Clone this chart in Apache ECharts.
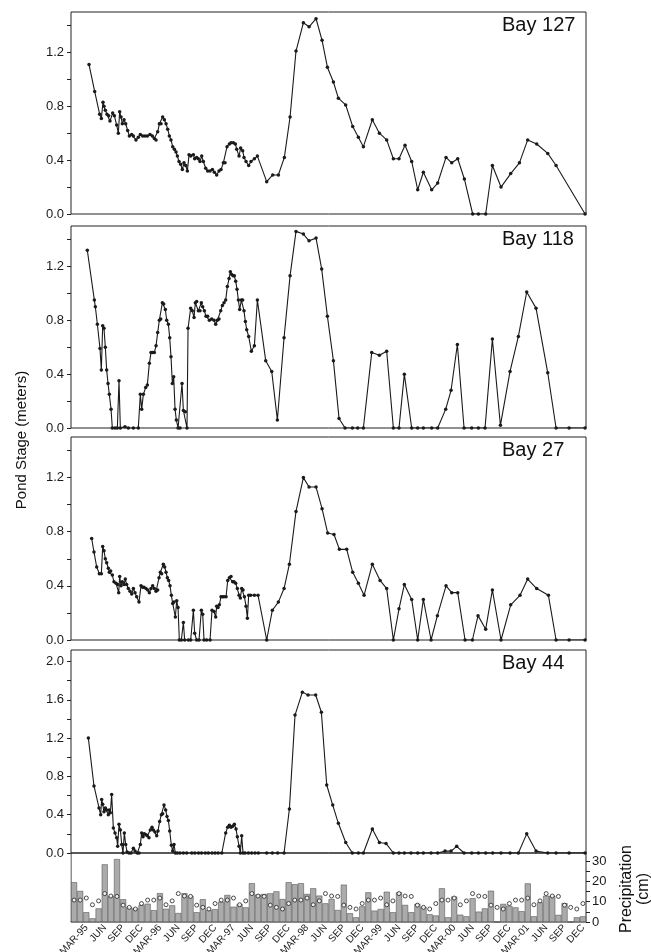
<!DOCTYPE html>
<html>
<head>
<meta charset="utf-8">
<script src="https://cdn.jsdelivr.net/npm/echarts@6/dist/echarts.min.js"></script>
<style>
    html, body { margin: 0; padding: 0; background: #fff; }
    #main { width: 651px; height: 952px; }
</style>
</head>
<body>
<div id="main"></div>
<script>
// x = months since 1 Jan 1995, y = pond stage (m)
var bay127 = [[2.94,1.11],[3.86,0.91],[4.68,0.74],[4.95,0.71],[5.22,0.83],[5.38,0.80],[5.60,0.77],[5.87,0.74],[6.14,0.73],[6.36,0.69],[6.80,0.75],[7.07,0.73],[7.45,0.66],[7.72,0.60],[7.94,0.76],[8.16,0.72],[8.37,0.67],[8.65,0.70],[8.92,0.67],[9.24,0.62],[9.52,0.58],[9.90,0.59],[10.17,0.58],[10.60,0.55],[10.98,0.57],[11.31,0.59],[11.69,0.58],[12.07,0.58],[12.45,0.58],[12.89,0.59],[13.27,0.58],[13.59,0.56],[13.87,0.55],[14.14,0.61],[14.41,0.67],[14.68,0.67],[14.95,0.72],[15.23,0.70],[15.50,0.67],[15.77,0.63],[16.04,0.58],[16.31,0.55],[16.59,0.50],[16.86,0.48],[17.13,0.46],[17.35,0.43],[17.62,0.39],[17.89,0.37],[18.16,0.33],[18.43,0.38],[18.71,0.36],[18.98,0.32],[19.25,0.44],[19.52,0.43],[19.96,0.44],[20.17,0.41],[20.50,0.42],[20.77,0.41],[21.04,0.39],[21.32,0.43],[21.59,0.39],[21.97,0.34],[22.29,0.32],[22.68,0.32],[23.06,0.33],[23.38,0.31],[23.76,0.29],[24.14,0.32],[24.47,0.33],[24.85,0.38],[25.12,0.38],[25.45,0.50],[25.83,0.52],[26.10,0.53],[26.48,0.53],[26.81,0.52],[27.03,0.48],[27.41,0.43],[27.67,0.49],[28.00,0.47],[28.22,0.42],[28.55,0.39],[28.98,0.36],[29.36,0.39],[29.91,0.41],[30.40,0.43],[31.92,0.24],[32.90,0.29],[33.82,0.29],[34.80,0.42],[35.73,0.72],[36.70,1.21],[37.90,1.42],[38.83,1.39],[39.97,1.45],[40.95,1.29],[41.82,1.09],[42.80,0.98],[43.61,0.86],[44.80,0.81],[45.95,0.65],[46.87,0.57],[47.69,0.50],[49.15,0.70],[50.30,0.60],[51.49,0.55],[52.58,0.41],[53.50,0.41],[54.48,0.51],[55.57,0.39],[56.55,0.18],[57.47,0.31],[58.83,0.18],[59.81,0.23],[61.17,0.42],[62.10,0.38],[63.08,0.41],[64.16,0.26],[65.52,0],[66.45,0],[67.64,0],[68.73,0.36],[70.14,0.20],[71.72,0.30],[73.14,0.38],[74.49,0.55],[75.96,0.52],[77.76,0.45],[79.12,0.36],[83.85,0]];

var bay118 = [[2.66,1.32],[3.81,0.95],[3.97,0.90],[4.30,0.77],[4.73,0.59],[4.95,0.43],[5.17,0.76],[5.38,0.74],[5.60,0.60],[5.82,0.43],[6.04,0.33],[6.25,0.25],[6.53,0.14],[6.74,0],[7.18,0],[7.56,0],[7.83,0.35],[8.05,0],[8.81,0.01],[9.35,0],[10.17,0],[10.98,0],[11.31,0.25],[11.53,0.14],[11.80,0.25],[12.18,0.30],[12.45,0.32],[12.78,0.48],[13.05,0.56],[13.32,0.56],[13.59,0.56],[13.87,0.61],[14.14,0.71],[14.41,0.80],[14.63,0.81],[14.90,0.93],[15.12,0.92],[15.39,0.88],[15.61,0.80],[15.88,0.77],[16.10,0.67],[16.31,0.53],[16.53,0.33],[16.75,0.38],[16.97,0.14],[17.18,0.06],[17.46,0],[17.78,0],[18.11,0.33],[18.33,0.13],[18.65,0.12],[18.92,0],[19.09,0.74],[19.52,0.89],[19.79,0.87],[20.07,0.82],[20.28,0.93],[20.50,0.94],[20.77,0.87],[21.04,0.87],[21.26,0.93],[21.48,0.90],[21.75,0.87],[22.02,0.83],[22.29,0.83],[22.57,0.80],[22.95,0.81],[23.33,0.80],[23.60,0.77],[23.87,0.80],[24.14,0.81],[24.42,0.87],[24.69,0.91],[24.96,0.93],[25.23,0.95],[25.50,1.05],[25.78,1.11],[25.99,1.16],[26.21,1.14],[26.43,1.13],[26.64,1.13],[26.86,1.09],[27.08,1.03],[27.30,0.95],[27.51,0.88],[27.79,0.95],[28.00,0.95],[28.22,0.87],[28.44,0.79],[28.66,0.73],[28.98,0.68],[29.42,0.57],[29.91,0.61],[30.40,0.95],[31.76,0.50],[32.74,0.42],[33.66,0.06],[34.75,0.67],[35.73,1.13],[36.70,1.46],[37.90,1.44],[38.83,1.39],[39.97,1.41],[40.89,1.18],[41.82,0.83],[42.80,0.50],[43.72,0.07],[44.70,0],[45.89,0],[46.76,0],[47.69,0],[49.05,0.56],[50.30,0.54],[51.49,0.57],[52.58,0],[53.50,0],[54.37,0.40],[55.57,0],[56.55,0],[57.47,0],[58.83,0],[59.81,0],[61.12,0.14],[61.99,0.28],[63.02,0.62],[64.11,0],[65.36,0],[66.45,0],[67.53,0],[68.73,0.66],[70.04,0.02],[71.61,0.42],[72.97,0.68],[74.33,1.01],[75.85,0.89],[77.76,0.41],[79.12,0],[81.24,0],[83.85,0]];

var bay27 = [[3.37,0.75],[3.75,0.65],[4.19,0.54],[4.62,0.49],[4.95,0.49],[5.17,0.69],[5.38,0.66],[5.60,0.60],[5.82,0.57],[6.09,0.53],[6.25,0.50],[6.47,0.51],[6.74,0.48],[7.01,0.43],[7.34,0.42],[7.61,0.41],[7.78,0.35],[7.94,0.47],[8.16,0.40],[8.37,0.43],[8.65,0.41],[8.86,0.45],[9.08,0.41],[9.35,0.38],[9.62,0.36],[9.90,0.34],[10.17,0.38],[10.44,0.35],[10.71,0.32],[11.09,0.28],[11.42,0.40],[11.69,0.39],[11.91,0.39],[12.23,0.38],[12.51,0.37],[12.78,0.35],[13.05,0.38],[13.32,0.40],[13.59,0.38],[13.87,0.36],[14.14,0.37],[14.36,0.46],[14.57,0.50],[14.79,0.49],[15.06,0.56],[15.28,0.54],[15.50,0.50],[15.72,0.46],[15.93,0.44],[16.15,0.40],[16.37,0.33],[16.59,0.27],[16.80,0.28],[17.02,0.17],[17.24,0.29],[17.46,0.24],[17.67,0],[18.00,0],[18.33,0.13],[18.54,0],[19.14,0],[19.52,0],[19.96,0.22],[20.17,0.05],[20.50,0],[20.88,0],[21.26,0.22],[21.48,0.19],[21.70,0],[22.13,0],[22.68,0],[23.00,0.22],[23.33,0.21],[23.60,0.17],[23.76,0.25],[23.98,0.24],[24.20,0.26],[24.47,0.32],[24.74,0.32],[24.96,0.32],[25.29,0.32],[25.56,0.44],[25.83,0.46],[26.10,0.47],[26.37,0.43],[26.59,0.43],[26.86,0.42],[27.13,0.38],[27.41,0.33],[27.62,0.31],[27.84,0.38],[28.06,0.37],[28.28,0.32],[28.55,0.25],[28.77,0.16],[28.98,0.33],[29.31,0.33],[29.91,0.33],[30.51,0.33],[31.92,0],[32.84,0.22],[33.82,0.28],[34.75,0.38],[35.62,0.56],[36.70,0.95],[37.90,1.20],[38.83,1.13],[39.97,1.13],[40.95,0.97],[41.87,0.79],[42.90,0.78],[43.78,0.67],[44.97,0.67],[45.95,0.50],[46.87,0.42],[47.80,0.33],[49.15,0.56],[50.41,0.44],[51.49,0.38],[52.58,0],[53.50,0.23],[54.37,0.41],[55.57,0.30],[56.55,0],[57.47,0.30],[58.73,0],[59.76,0.18],[61.17,0.40],[62.10,0.35],[63.08,0.35],[64.27,0],[65.47,0],[66.39,0.18],[67.64,0.08],[68.73,0.37],[70.14,0],[71.72,0.26],[73.24,0.33],[74.49,0.45],[75.96,0.38],[77.87,0.33],[79.12,0],[81.24,0],[83.85,0]];

var bay44 = [[2.83,1.20],[3.75,0.70],[4.57,0.47],[4.84,0.40],[5.00,0.56],[5.17,0.51],[5.38,0.43],[5.60,0.47],[5.82,0.45],[6.09,0.40],[6.25,0.45],[6.42,0.42],[6.63,0.61],[6.91,0.26],[7.18,0.21],[7.45,0.16],[7.61,0.07],[7.83,0.30],[8.05,0.24],[8.27,0.09],[8.48,0],[8.70,0.21],[8.92,0.09],[9.14,0.01],[9.46,0],[9.79,0],[10.17,0.05],[10.44,0.02],[10.82,0],[11.09,0],[11.31,0.09],[11.53,0.21],[11.75,0.17],[11.96,0.20],[12.23,0.19],[12.45,0.18],[12.72,0.16],[12.94,0.24],[13.21,0.27],[13.43,0.24],[13.70,0.22],[13.98,0.18],[14.19,0.23],[14.46,0.33],[14.74,0.40],[14.95,0.41],[15.17,0.50],[15.44,0.45],[15.66,0.38],[15.88,0.34],[16.10,0.23],[16.37,0.08],[16.59,0.02],[16.80,0.09],[17.02,0],[17.35,0],[17.78,0],[18.33,0],[18.87,0],[19.70,0],[20.20,0],[20.80,0],[21.30,0],[21.90,0],[22.40,0],[23.00,0],[23.50,0],[24.00,0],[24.60,0],[25.23,0.21],[25.56,0.27],[25.83,0.29],[26.10,0.27],[26.37,0.28],[26.64,0.30],[26.92,0.25],[27.13,0.17],[27.41,0.07],[27.62,0],[27.84,0.18],[28.06,0],[28.39,0],[28.93,0],[29.47,0],[30.02,0],[30.56,0],[31.92,0],[32.84,0],[33.71,0],[34.75,0],[35.62,0.46],[36.54,1.44],[37.74,1.68],[38.66,1.65],[39.91,1.65],[40.84,1.47],[41.71,0.71],[42.69,0.50],[43.61,0.31],[44.81,0.11],[45.89,0],[46.87,0],[47.69,0],[49.15,0.25],[50.30,0.11],[51.38,0.10],[52.58,0],[53.50,0],[54.37,0],[55.46,0],[56.55,0],[57.47,0],[58.73,0],[59.81,0],[61.01,0.02],[61.99,0.02],[62.91,0.07],[64.11,0],[65.36,0],[66.45,0],[67.64,0],[68.79,0],[70.14,0],[71.61,0],[72.97,0],[74.33,0.20],[75.85,0.02],[77.76,0],[79.12,0],[81.24,0],[83.85,0]];

// monthly precipitation (cm), Jan 1995 .. Dec 2001
var precip = [19.6,15.3,4.8,1.8,6.7,28.4,12.8,31.0,11.2,7.3,6.7,8.4,
              9.0,5.8,14.2,6.5,8.2,4.4,14.2,12.8,4.8,11.2,5.8,6.3,
              10.0,13.3,7.5,8.8,7.2,19.1,13.5,13.8,14.1,15.1,11.3,19.6,
              18.6,19.1,13.8,16.6,13.0,9.2,11.3,5.9,18.4,4.3,2.3,7.7,
              14.6,5.6,6.4,14.9,4.8,14.6,8.4,4.8,8.9,7.5,3.8,3.2,
              16.6,2.3,12.5,3.6,2.8,11.7,5.1,6.7,15.4,0,8.9,8.0,
              7.2,5.3,19.0,2.8,9.7,12.9,12.9,3.5,9.3,0,2.3,2.8];
// long-term monthly mean (cm), Jan..Dec
var precipNormal = [10.8,10.8,11.8,8.5,10.4,14.0,12.8,12.6,8.3,7.2,6.4,9.1];

var tickMonths = [2,5,8,11,14,17,20,23,26,29,32,35,38,41,44,47,50,53,56,59,62,65,68,71,74,77,80,83];
var tickLabels = ['MAR-95','JUN','SEP','DEC','MAR-96','JUN','SEP','DEC','MAR-97','JUN','SEP','DEC',
                  'MAR-98','JUN','SEP','DEC','MAR-99','JUN','SEP','DEC','MAR-00','JUN','SEP','DEC',
                  'MAR-01','JUN','SEP','DEC'];

(function () {
    var FONT = '"Liberation Sans", Arial, sans-serif';
    var INK = '#1a1a1a';

    var panels = [
        {name: 'Bay 127', data: bay127, top: 12, height: 202, max: 1.5},
        {name: 'Bay 118', data: bay118, top: 226, height: 202, max: 1.5},
        {name: 'Bay 27', data: bay27, top: 437, height: 203, max: 1.5},
        {name: 'Bay 44', data: bay44, top: 650, height: 203, max: 2.12}
    ];

    var grid = [], xAxis = [], yAxis = [], series = [], graphic = [];

    panels.forEach(function (p, i) {
        grid.push({left: 71, right: 65, top: p.top, height: p.height, outerBoundsMode: 'none',
            show: true, borderColor: '#222', borderWidth: 1});
        xAxis.push({type: 'value', gridIndex: i, min: 0, max: 84,
            axisLine: {show: false, onZero: false}, axisTick: {show: false},
            axisLabel: {show: false}, splitLine: {show: false}});
        // ticks every 0.2 m, labels every 0.4 m
        yAxis.push({type: 'value', gridIndex: i, min: 0, max: p.max, interval: 0.2,
            axisLine: {show: false, onZero: false},
            axisTick: {show: true, length: 4, lineStyle: {color: '#222'}},
            axisLabel: {color: INK, fontSize: 13, fontFamily: FONT, margin: 7, showMaxLabel: false,
                formatter: function (v) {
                    var t = Math.round(v * 10);
                    return (t % 4 === 0 && v < p.max - 0.05) ? v.toFixed(1) : '';
                }},
            splitLine: {show: false}});
        series.push({type: 'line', xAxisIndex: i, yAxisIndex: i, data: p.data,
            symbol: 'circle', symbolSize: 3.5, showAllSymbol: true,
            lineStyle: {color: INK, width: 1.1}, itemStyle: {color: INK}});
        graphic.push({type: 'text', left: 502, top: p.top + 3,
            style: {text: p.name, font: '20px ' + FONT, fill: '#111'}});
    });

    // precipitation panel
    grid.push({left: 71, right: 65, top: 853, height: 69, outerBoundsMode: 'none',
        show: true, borderColor: '#222', borderWidth: 1});
    xAxis.push({type: 'value', gridIndex: 4, min: 0, max: 84,
        axisLine: {show: false, onZero: false}, axisTick: {show: false}, splitLine: {show: false},
        axisLabel: {customValues: tickMonths.map(function (m) { return m + 0.5; }),
            rotate: 48, fontSize: 10, color: INK, fontFamily: FONT, margin: 4,
            formatter: function (v) { return tickLabels[Math.round((v - 2.5) / 3)]; }}});
    yAxis.push({type: 'value', gridIndex: 4, position: 'right', min: 0, max: 34, interval: 5,
        axisLine: {show: false, onZero: false},
        axisTick: {show: true, length: 4, lineStyle: {color: '#222'}},
        axisLabel: {color: INK, fontSize: 13, fontFamily: FONT, margin: 6, showMaxLabel: false,
            formatter: function (v) { return (v % 10 === 0 && v <= 30) ? String(v) : ''; }},
        splitLine: {show: false}});

    series.push({type: 'bar', xAxisIndex: 4, yAxisIndex: 4, barWidth: 6,
        data: precip.map(function (v, k) { return [k + 0.5, v]; }),
        itemStyle: {color: '#ababab', borderColor: '#444', borderWidth: 0.5}});
    series.push({type: 'scatter', xAxisIndex: 4, yAxisIndex: 4, z: 5,
        data: precip.map(function (v, k) { return [k + 0.5, precipNormal[k % 12]]; }),
        symbol: 'circle', symbolSize: 4,
        itemStyle: {color: '#fff', borderColor: '#222', borderWidth: 1}});

    // blank strip left of the precipitation panel (no ticks there in the original)
    graphic.push({type: 'rect', z: 100, shape: {x: 64.5, y: 854, width: 6, height: 67},
        style: {fill: '#fff'}});
    graphic.push({type: 'text', x: 22, y: 440, rotation: Math.PI / 2,
        style: {text: 'Pond Stage (meters)', font: '15px ' + FONT, fill: '#111',
            align: 'center', verticalAlign: 'middle'}});
    graphic.push({type: 'text', x: 635, y: 889, rotation: Math.PI / 2,
        style: {text: 'Precipitation\n(cm)', font: '16px ' + FONT, fill: '#111',
            align: 'center', verticalAlign: 'middle', lineHeight: 17}});

    var chart = echarts.init(document.getElementById('main'));
    chart.setOption({
        animation: false,
        backgroundColor: '#fff',
        grid: grid,
        xAxis: xAxis,
        yAxis: yAxis,
        series: series,
        graphic: graphic
    });
})();
</script>
</body>
</html>
